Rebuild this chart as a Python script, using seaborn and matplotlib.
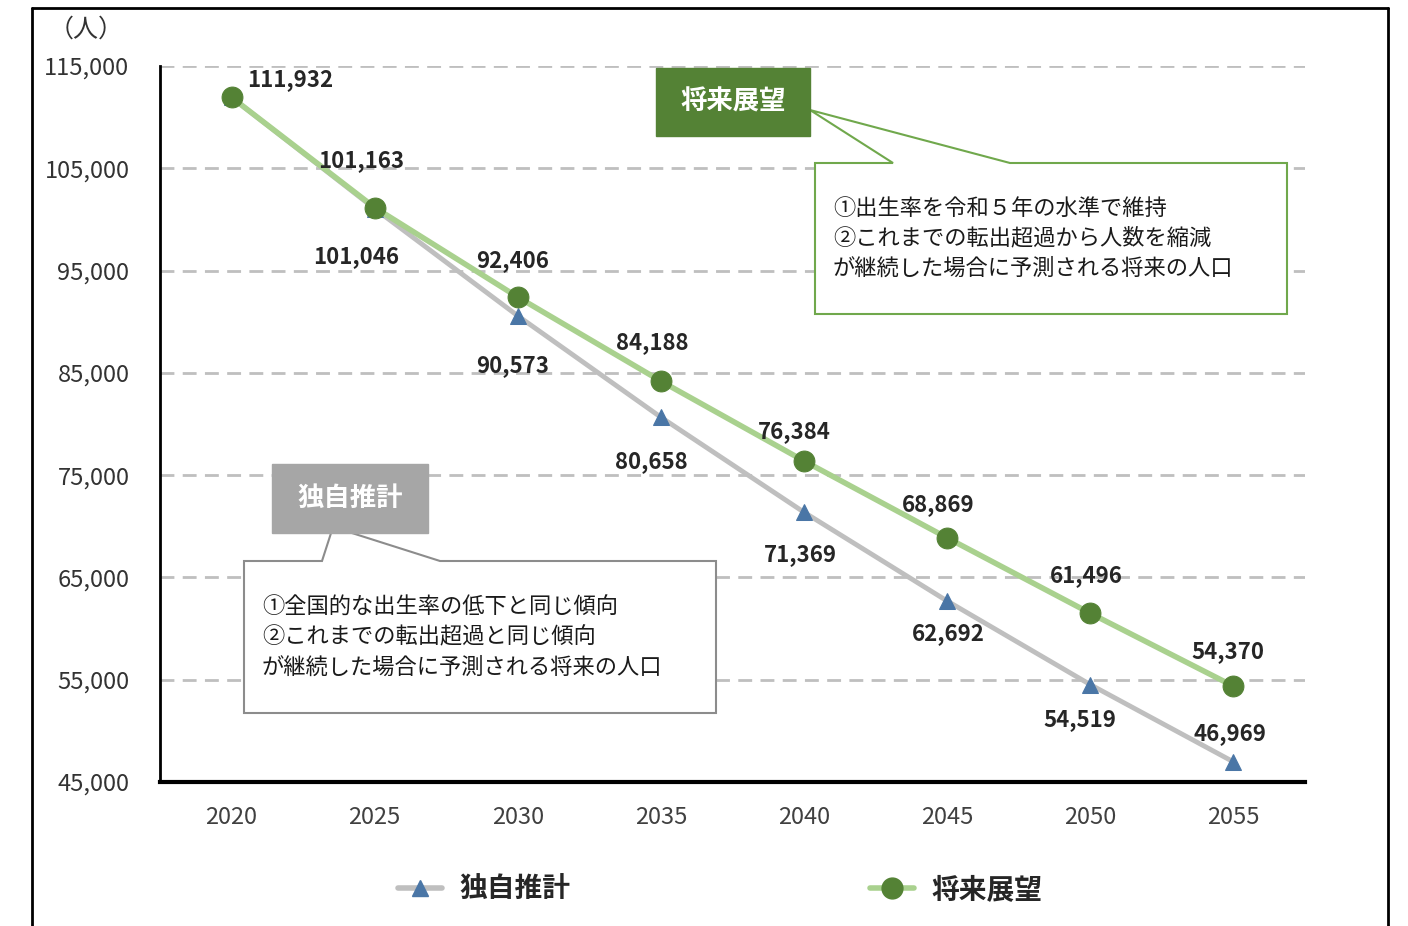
import numpy as np
import pandas as pd
import matplotlib
matplotlib.use("Agg")
import matplotlib.pyplot as plt
from matplotlib.patches import Rectangle, Polygon
from matplotlib.lines import Line2D
import seaborn as sns

years = [2020, 2025, 2030, 2035, 2040, 2045, 2050, 2055]
dokuji = [111932, 101046, 90573, 80658, 71369, 62692, 54519, 46969]
shorai = [111932, 101163, 92406, 84188, 76384, 68869, 61496, 54370]
yticks = [45000, 55000, 65000, 75000, 85000, 95000, 105000, 115000]

name_dokuji = "独自推計"
name_shorai = "将来展望"
note_shorai = ["①出生率を令和５年の水準で維持",
               "②これまでの転出超過から人数を縮減",
               "が継続した場合に予測される将来の人口"]
note_dokuji = ["①全国的な出生率の低下と同じ傾向",
               "②これまでの転出超過と同じ傾向",
               "が継続した場合に予測される将来の人口"]

# label offsets in pixels (dx right, dy down)
off_shorai = [(59, -18), (-13, -47), (-5, -37), (-9, -39), (-10, -29), (-9, -33), (-4, -38), (-6, -35)]
off_dokuji = [None, (-19, 48), (-5, 50), (-10, 44), (-4, 42), (1, 33), (-10, 35), (-3, -28)]

sns.set_theme(style="white")
plt.rcParams['font.family'] = ['Noto Sans CJK JP', 'DejaVu Sans']

W, H = 1408, 926
fig = plt.figure(figsize=(W / 100, H / 100), dpi=100)
ax = fig.add_axes([160 / W, 1 - 782 / H, (1305 - 160) / W, (782 - 66) / H])

df = pd.DataFrame({"year": years, name_dokuji: dokuji, name_shorai: shorai})

GRAY_LINE = "#bfbfbf"
BLUE_MK = "#4a76a6"
GREEN_LINE = "#a9d18e"
GREEN_MK = "#548235"

sns.lineplot(data=df, x="year", y=name_dokuji, ax=ax, color=GRAY_LINE, lw=3.5,
             marker="^", markersize=12, markerfacecolor=BLUE_MK, markeredgecolor=BLUE_MK, zorder=3)
sns.lineplot(data=df, x="year", y=name_shorai, ax=ax, color=GREEN_LINE, lw=4,
             marker="o", markersize=15, markerfacecolor=GREEN_MK, markeredgecolor=GREEN_MK, zorder=4)

ax.set_xlim(2017.5, 2057.5)
ax.set_ylim(45000, 115000)
ax.set_xticks(years)
ax.set_xticklabels([str(y) for y in years], fontsize=17, color="#404040")
ax.set_yticks(yticks)
ax.set_yticklabels([f"{v:,}" for v in yticks], fontsize=17, color="#333333")
ax.tick_params(axis="x", length=0, pad=17)
ax.tick_params(axis="y", length=0, pad=22)
ax.set_xlabel("")
ax.set_ylabel("")

for v in yticks[1:]:
    ax.axhline(v, color="#bfbfbf", lw=2, ls=(0, (5, 3)), zorder=1)

for s in ["top", "right"]:
    ax.spines[s].set_visible(False)
ax.spines["left"].set_color("black")
ax.spines["left"].set_linewidth(2)
ax.spines["bottom"].set_color("black")
ax.spines["bottom"].set_linewidth(3)

for x, y, off in zip(years, shorai, off_shorai):
    ax.annotate(f"{y:,}", (x, y), xytext=(off[0], -off[1]), textcoords="offset pixels",
                ha="center", va="center", fontsize=16, fontweight="bold", color="#262626", zorder=6)
for x, y, off in zip(years, dokuji, off_dokuji):
    if off is None:
        continue
    ax.annotate(f"{y:,}", (x, y), xytext=(off[0], -off[1]), textcoords="offset pixels",
                ha="center", va="center", fontsize=16, fontweight="bold", color="#262626", zorder=6)

fig.text(86 / W, 1 - 30 / H, "（人）", ha="center", va="center", fontsize=18, color="#333333")


def px(x, y):
    return (x / W, 1 - y / H)


def callout(x0, y0, x1, y1, b0, b1, tip, edge):
    pts = [px(x0, y0), px(b0, y0), px(*tip), px(b1, y0), px(x1, y0), px(x1, y1), px(x0, y1)]
    fig.patches.append(Polygon(pts, closed=True, transform=fig.transFigure, facecolor="white",
                               edgecolor=edge, lw=1.5, zorder=5))


def label_box(x0, y0, x1, y1, color, text):
    fig.patches.append(Rectangle(px(x0, y1), (x1 - x0) / W, (y1 - y0) / H, transform=fig.transFigure,
                                 facecolor=color, edgecolor=color, zorder=6))
    fig.text((x0 + x1) / 2 / W, 1 - (y0 + y1) / 2 / H, text, ha="center", va="center",
             fontsize=19, fontweight="bold", color="white", zorder=7)


# 将来展望 callout
callout(815, 163, 1287, 314, 893, 1010, (810, 110), "#70a84c")
label_box(656, 68, 810, 136, "#548235", name_shorai)
for i, line in enumerate(note_shorai):
    fig.text(833 / W, 1 - (208 + 30 * i) / H, line, ha="left", va="center", fontsize=16, color="#1a1a1a", zorder=7)

# 独自推計 callout
callout(244, 561, 716, 713, 322, 440, (333, 527), "#8c8c8c")
label_box(272, 464, 428, 533, "#a6a6a6", name_dokuji)
for i, line in enumerate(note_dokuji):
    fig.text(262 / W, 1 - (607 + 30 * i) / H, line, ha="left", va="center", fontsize=16, color="#1a1a1a", zorder=7)

handles = [
    Line2D([], [], color=GRAY_LINE, lw=4, marker="^", markersize=12,
           markerfacecolor=BLUE_MK, markeredgecolor=BLUE_MK),
    Line2D([], [], color=GREEN_LINE, lw=4, marker="o", markersize=15,
           markerfacecolor=GREEN_MK, markeredgecolor=GREEN_MK),
]
fig.legend(handles, [name_dokuji, name_shorai], loc="center", bbox_to_anchor=(720 / W, 1 - 890 / H),
           ncol=2, frameon=False, handlelength=1.6, handletextpad=0.6, columnspacing=10.8,
           prop={"size": 20, "weight": "bold"})

# outer frame
frame_kw = dict(transform=fig.transFigure, color="black", lw=2)
fig.lines.append(Line2D([32 / W, 32 / W], [0, 1 - 8 / H], **frame_kw))
fig.lines.append(Line2D([1388 / W, 1388 / W], [0, 1 - 8 / H], **frame_kw))
fig.lines.append(Line2D([32 / W, 1388 / W], [1 - 8 / H, 1 - 8 / H], **frame_kw))

fig.savefig("out.png", dpi=100)
